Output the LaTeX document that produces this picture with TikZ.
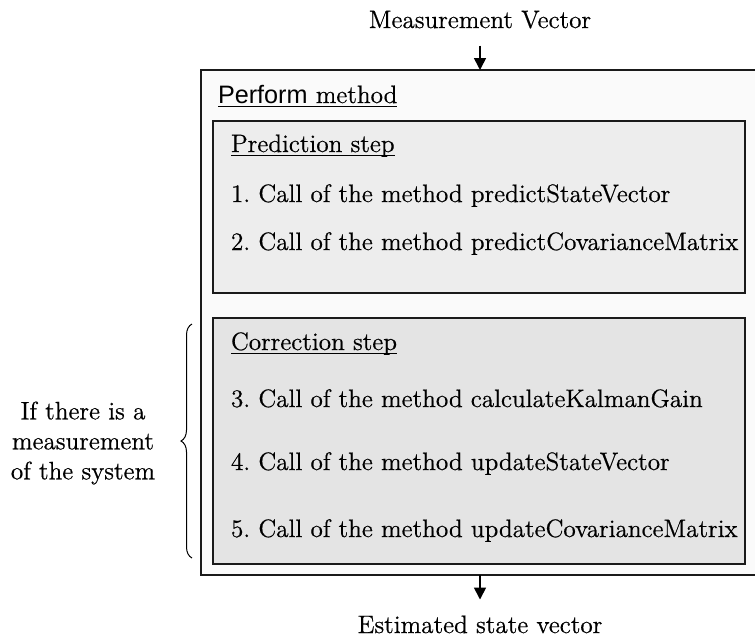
\documentclass[tikz,border=0pt]{standalone}
\usepackage{fontspec}
\setmainfont{Latin Modern Roman}[FakeBold=0.6]
\newfontfamily\arialfont{Liberation Sans}
\usetikzlibrary{arrows.meta,decorations.pathreplacing}
\definecolor{outerfill}{HTML}{FAFAFA}
\definecolor{predfill}{HTML}{EDEDED}
\definecolor{corrfill}{HTML}{E4E4E4}
\definecolor{edge}{HTML}{1A1A1A}
\newcommand{\myul}[1]{\setbox0\hbox{#1}\rlap{\rule[-2.2pt]{\wd0}{0.7pt}}\box0}
\frenchspacing
\begin{document}
\begin{tikzpicture}[x=0.5pt,y=-0.5pt,
  every node/.style={inner sep=0pt, outer sep=0pt, font=\fontsize{12.6}{15}\selectfont},
  panel/.style={draw=edge, line width=0.8pt, rectangle},
  txt/.style={anchor=base west},
  arr/.style={line width=0.8pt, -{Triangle[length=6pt,width=6pt]}},
]
\useasboundingbox (0,0) rectangle (755,638);
\clip (0,0) rectangle (755,638);
\fill[white] (0,0) rectangle (755,638);
% panels
\node[panel, fill=outerfill, minimum width=280.5pt, minimum height=252.5pt] (outer) at (481.5,322.5) {};
\node[panel, fill=predfill, minimum width=266.15pt, minimum height=86.15pt] (pred) at (478.85,206.85) {};
\node[panel, fill=corrfill, minimum width=266pt, minimum height=123pt] (corr) at (479,441) {};
% texts
\node[anchor=base] (mv) at (480,28) {Measurement Vector};
\node[anchor=base] (est) at (480,633) {Estimated state vector};
\node[txt] (title) at (218,103) {\myul{{\arialfont Perform} method}};
\node[txt] (ph) at (231,152) {\myul{Prediction step}};
\node[txt] (p1) at (231,202) {1. Call of the method predictStateVector};
\node[txt] (p2) at (231,250) {2. Call of the method predictCovarianceMatrix};
\node[txt] (ch) at (231,350) {\myul{Correction step}};
\node[txt] (c3) at (231,407) {3. Call of the method calculateKalmanGain};
\node[txt] (c4) at (231,470) {4. Call of the method updateStateVector};
\node[txt] (c5) at (231,537) {5. Call of the method updateCovarianceMatrix};
\node[align=center] (cond) at (83,443) {If there is a\\measurement\\of the system};
% brace
\draw[decorate, decoration={brace, amplitude=5.5pt}, line width=0.5pt] (192,558) -- (192,324);
% arrows
\draw[arr] ([yshift=-8.5pt]mv.south) -- (mv.south |- outer.north);
\draw[arr] (outer.south -| est.north) -- ([yshift=8pt]est.north);
\end{tikzpicture}
\end{document}
